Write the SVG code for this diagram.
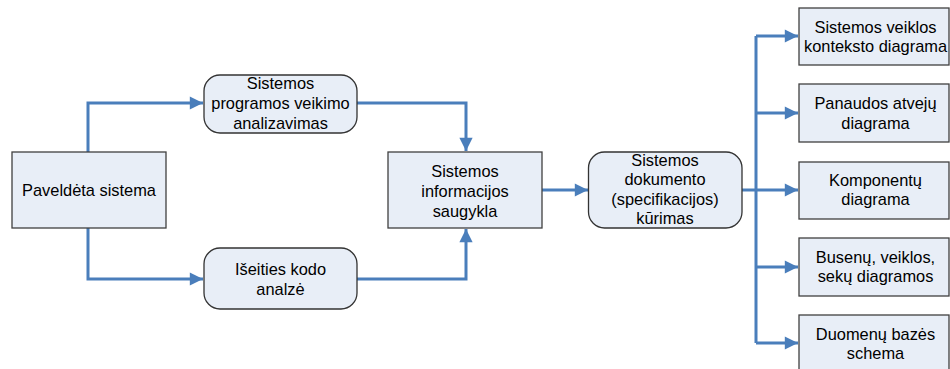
<svg xmlns="http://www.w3.org/2000/svg" width="950" height="369" viewBox="0 0 950 369">
  <style>
    .box { fill: #E8EEF7; stroke: #404040; stroke-width: 1.3; }
    .rbox { fill: #E8EEF7; stroke: #333333; stroke-width: 1.3; }
    .lbl { font-family: "Liberation Sans", Arial, sans-serif; font-size: 16.4px; fill: #000; text-anchor: middle; }
    .wire { fill: none; stroke: #4A7EBB; stroke-width: 3; }
  </style>
  <defs>
    <marker id="arrow" viewBox="0 0 10 10" refX="10" refY="5" markerWidth="5.2" markerHeight="4.4" markerUnits="strokeWidth" orient="auto">
      <path d="M0,0 L10,5 L0,10 Z" fill="#4A7EBB"/>
    </marker>
  </defs>
  <rect width="950" height="369" fill="#FFFFFF"/>

  <g id="connectors">
    <path class="wire" d="M88,152 V103 H203" marker-end="url(#arrow)"/>
    <path class="wire" d="M88,228 V279 H203" marker-end="url(#arrow)"/>
    <path class="wire" d="M357,103 H466 V151" marker-end="url(#arrow)"/>
    <path class="wire" d="M357,279 H466 V229" marker-end="url(#arrow)"/>
    <path class="wire" d="M542,190 H588" marker-end="url(#arrow)"/>
    <path class="wire" d="M742,190 H756"/>
    <path class="wire" d="M756,36 V343"/>
    <path class="wire" d="M756,36 H798" marker-end="url(#arrow)"/>
    <path class="wire" d="M756,113 H798" marker-end="url(#arrow)"/>
    <path class="wire" d="M756,190 H798" marker-end="url(#arrow)"/>
    <path class="wire" d="M756,267 H798" marker-end="url(#arrow)"/>
    <path class="wire" d="M756,343 H798" marker-end="url(#arrow)"/>
  </g>

  <g id="paveldeta">
    <rect class="box" x="12" y="152" width="154" height="76"/>
    <text class="lbl" x="89" y="195.5">Paveldėta sistema</text>
  </g>

  <g id="programos-analize">
    <rect class="rbox" x="204" y="75" width="153" height="58" rx="16"/>
    <text class="lbl" x="280.5" y="88.5">Sistemos</text>
    <text class="lbl" x="280.5" y="108.5">programos veikimo</text>
    <text class="lbl" x="280.5" y="128.5">analizavimas</text>
  </g>

  <g id="kodo-analize">
    <rect class="rbox" x="204" y="248" width="153" height="61" rx="16"/>
    <text class="lbl" x="280.5" y="274.5">Išeities kodo</text>
    <text class="lbl" x="280.5" y="294.5">analzė</text>
  </g>

  <g id="saugykla">
    <rect class="box" x="388" y="152" width="154" height="76"/>
    <text class="lbl" x="465" y="176.5">Sistemos</text>
    <text class="lbl" x="465" y="196.5">informacijos</text>
    <text class="lbl" x="465" y="216.5">saugykla</text>
  </g>

  <g id="dokumentas">
    <rect class="rbox" x="588.5" y="152" width="153.5" height="76" rx="16"/>
    <text class="lbl" x="665" y="165.5">Sistemos</text>
    <text class="lbl" x="665" y="184.5">dokumento</text>
    <text class="lbl" x="665" y="204.5">(specifikacijos)</text>
    <text class="lbl" x="665" y="223.5">kūrimas</text>
  </g>

  <g id="konteksto-diagrama">
    <rect class="box" x="799" y="8" width="150" height="57"/>
    <text class="lbl" x="875.5" y="32.5">Sistemos veiklos</text>
    <text class="lbl" x="875.5" y="51.5">konteksto diagrama</text>
  </g>

  <g id="panaudos-diagrama">
    <rect class="box" x="799" y="84" width="150" height="58"/>
    <text class="lbl" x="875.5" y="108.5">Panaudos atvejų</text>
    <text class="lbl" x="875.5" y="128.5">diagrama</text>
  </g>

  <g id="komponentu-diagrama">
    <rect class="box" x="799" y="162" width="150" height="57"/>
    <text class="lbl" x="875.5" y="185.5">Komponentų</text>
    <text class="lbl" x="875.5" y="204.5">diagrama</text>
  </g>

  <g id="busenu-diagramos">
    <rect class="box" x="799" y="238" width="150" height="58"/>
    <text class="lbl" x="875.5" y="262.5">Busenų, veiklos,</text>
    <text class="lbl" x="875.5" y="281.5">sekų diagramos</text>
  </g>

  <g id="duomenu-schema">
    <rect class="box" x="799" y="315" width="150" height="58"/>
    <text class="lbl" x="875.5" y="339.5">Duomenų bazės</text>
    <text class="lbl" x="875.5" y="358.5">schema</text>
  </g>
</svg>
